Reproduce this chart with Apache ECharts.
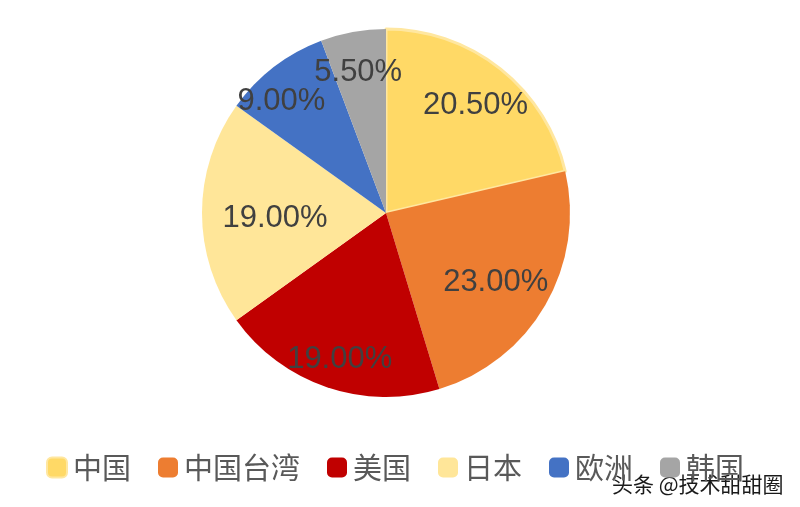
<!DOCTYPE html>
<html>
<head>
<meta charset="utf-8">
<script src="https://cdn.jsdelivr.net/npm/echarts@6/dist/echarts.min.js"></script>
<style>html,body{margin:0;padding:0;background:#fff}#c{width:800px;height:507px}</style>
</head>
<body>
<div id="c"></div>
<script>
const categories = ['中国', '中国台湾', '美国', '日本', '欧洲', '韩国'];
const shares = [20.5, 23.0, 19.0, 19.0, 9.0, 5.5];
const colors = ['#FFD966', '#ED7D31', '#C00000', '#FFE699', '#4472C4', '#A5A5A5'];
// label nudges (layout only, to mimic the original label placement)
const labelNudge = [[0, 5], [-15, -3], [0, 10], [33, 5], [-17, 3], [-2, 1]];

const chart = echarts.init(document.getElementById('c'));
const visData = categories.map((n, i) => {
  const item = { name: n, value: shares[i], itemStyle: { color: colors[i] } };
  if (i === 0) item.itemStyle = { color: colors[i], borderColor: '#FFE7A0', borderWidth: 3 };
  return item;
});
const labData = categories.map((n, i) => ({
  name: n, value: shares[i], label: { offset: labelNudge[i] }
}));

chart.setOption({
  backgroundColor: '#fff',
  animation: false,
  legend: {
    bottom: 20,
    left: 41,
    itemWidth: 20,
    itemHeight: 20,
    itemGap: 27,
    icon: 'roundRect',
    data: categories,
    textStyle: { fontFamily: 'Noto Sans CJK SC', fontSize: 29, color: '#595959', padding: [0, 0, 0, 1] }
  },
  series: [
    {
      type: 'pie',
      center: [386, 213],
      radius: [0, 184],
      startAngle: 90,
      clockwise: true,
      label: { show: false },
      labelLine: { show: false },
      silent: true,
      data: visData
    },
    {
      type: 'pie',
      center: [386, 213],
      radius: [98, 184],
      startAngle: 90,
      clockwise: true,
      silent: true,
      avoidLabelOverlap: false,
      minShowLabelAngle: 0,
      itemStyle: { color: 'rgba(0,0,0,0)' },
      label: {
        show: true,
        position: 'inside',
        fontFamily: 'Liberation Sans',
        fontSize: 31,
        color: '#404040',
        formatter: p => p.value.toFixed(2) + '%'
      },
      labelLine: { show: false },
      labelLayout: { hideOverlap: false },
      data: labData
    }
  ],
  graphic: [
    {
      type: 'text',
      right: 15,
      bottom: 11,
      style: {
        text: '头条 @技术甜甜圈',
        fontFamily: 'Noto Sans CJK SC',
        fontSize: 21,
        fill: '#1a1a1a',
        stroke: '#ffffff',
        lineWidth: 3
      }
    }
  ]
});
</script>
</body>
</html>
